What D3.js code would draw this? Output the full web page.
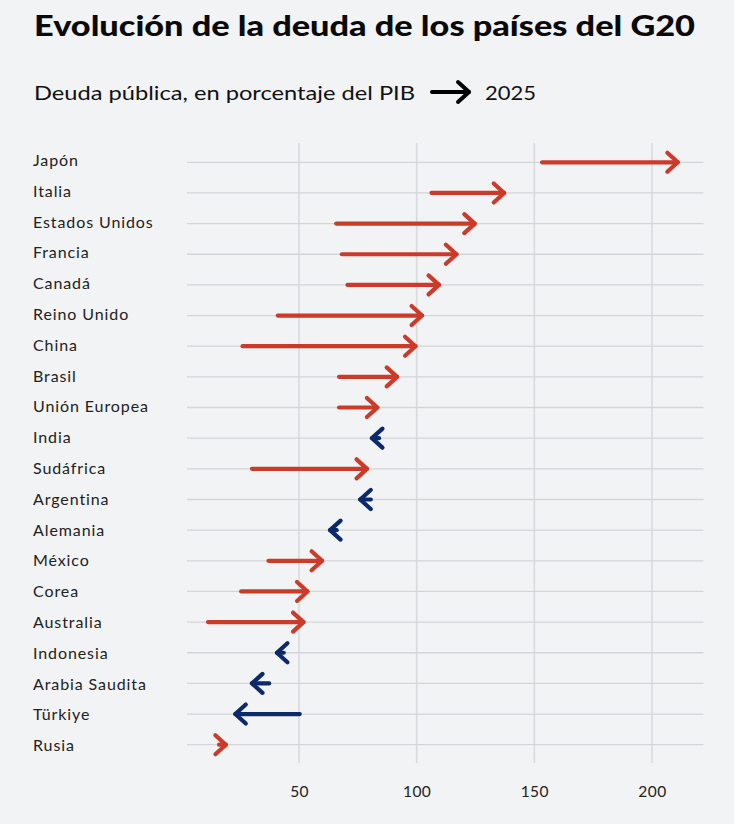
<!DOCTYPE html>
<html>
<head>
<meta charset="utf-8">
<script src="https://cdn.jsdelivr.net/npm/d3@7"></script>
<style>
  html, body { margin: 0; padding: 0; background: #f2f3f5; }
  svg { display: block; }
</style>
</head>
<body>
<script>
// ---- Data ----
const countries = ["Japón","Italia","Estados Unidos","Francia","Canadá","Reino Unido","China","Brasil","Unión Europea","India","Sudáfrica","Argentina","Alemania","México","Corea","Australia","Indonesia","Arabia Saudita","Türkiye","Rusia"];
const debtStart = [153.3,106.3,65.8,68.2,70.6,41,26,67,67,84,30,80.5,66,37,25.4,11.3,43.5,37.3,50.3,16];
const debt2025  = [211,137.2,124.7,116.9,109.5,102.3,99.5,91.7,83.3,81,78.9,76,63.2,59.8,53.6,51.9,40.6,30,22.9,18.9];
const xTicks = [50,100,150,200];
const titleText = "Evolución de la deuda de los países del G20";
const subtitleText = "Deuda pública, en porcentaje del PIB";
const legendText = "2025";

const W = 734, H = 824;
const RED = "#cc3a2a", BLUE = "#0c2a6a";
const FONT = "Lato, 'Open Sans', sans-serif";

const svg = d3.select("body").append("svg").attr("width", W).attr("height", H);
svg.append("rect").attr("width", W).attr("height", H).attr("fill", "#f2f3f5");

const x = d3.scaleLinear().domain([0, 220]).range([181.4, 699]);
const y = d3.scalePoint().domain(countries).range([162.3, 744.7]);
const yLabel = d3.scalePoint().domain(countries).range([160.5, 745.5]);

// Title & subtitle
svg.append("text").attr("x", 34).attr("y", 36)
  .attr("font-family", FONT).attr("font-weight", 900).attr("font-size", 28.5)
  .attr("fill", "#0a0a0a").attr("textLength", 661).attr("lengthAdjust", "spacingAndGlyphs")
  .text(titleText);
svg.append("text").attr("x", 34).attr("y", 100)
  .attr("font-family", FONT).attr("font-weight", 400).attr("font-size", 20)
  .attr("fill", "#111").attr("textLength", 381).attr("lengthAdjust", "spacingAndGlyphs")
  .text(subtitleText);
// legend arrow
const lg = svg.append("g").attr("fill", "none").attr("stroke", "#000").attr("stroke-width", 4)
  .attr("stroke-linecap", "round").attr("stroke-linejoin", "round");
lg.append("line").attr("x1", 432).attr("x2", 469).attr("y1", 92).attr("y2", 92);
lg.append("path").attr("d", "M458,82 L469,92 L458,102");
svg.append("text").attr("x", 485).attr("y", 100)
  .attr("font-family", FONT).attr("font-size", 20).attr("fill", "#111")
  .attr("textLength", 51).attr("lengthAdjust", "spacingAndGlyphs")
  .text(legendText);

// Gridlines
const grid = svg.append("g");
grid.selectAll("line.v").data(xTicks).join("line").attr("class", "v")
  .attr("x1", d => x(d)).attr("x2", d => x(d))
  .attr("y1", 143).attr("y2", 763)
  .attr("stroke", "#d9dadd").attr("stroke-width", 1.6);
grid.selectAll("line.h").data(countries).join("line").attr("class", "h")
  .attr("x1", 187).attr("x2", 703.5)
  .attr("y1", d => y(d)).attr("y2", d => y(d))
  .attr("stroke", "#d3d5d8").attr("stroke-width", 1.3);

// Axis labels
const xAxis = d3.axisBottom(x).tickValues(xTicks).tickSize(0).tickPadding(0);
const ax = svg.append("g").attr("transform", "translate(0,786)").call(xAxis);
ax.select(".domain").remove();
ax.selectAll("text").attr("font-family", FONT).attr("font-size", 15.5)
  .attr("letter-spacing", "0.4px").attr("fill", "#222");

// Country labels
svg.append("g").selectAll("text").data(countries).join("text")
  .attr("x", 33).attr("y", d => yLabel(d)).attr("dy", "0.35em")
  .attr("font-family", FONT).attr("font-size", 16).attr("letter-spacing", "0.9px")
  .attr("fill", "#222")
  .text(d => d);

// Arrows
const rows = countries.map((c, i) => ({c, s: debtStart[i], e: debt2025[i]}));
const ag = svg.append("g").attr("fill", "none").attr("stroke-width", 4.2)
  .attr("stroke-linecap", "round").attr("stroke-linejoin", "round");
const arr = ag.selectAll("g").data(rows).join("g")
  .attr("stroke", d => d.e >= d.s ? RED : BLUE);
arr.append("line")
  .attr("x1", d => x(d.s)).attr("x2", d => x(d.e))
  .attr("y1", d => y(d.c)).attr("y2", d => y(d.c));
arr.append("path").attr("d", d => {
  const tx = x(d.e), ty = y(d.c), dir = d.e >= d.s ? -1 : 1;
  return `M${tx + dir * 10.5},${ty - 9.5} L${tx},${ty} L${tx + dir * 10.5},${ty + 9.5}`;
});
</script>
</body>
</html>
